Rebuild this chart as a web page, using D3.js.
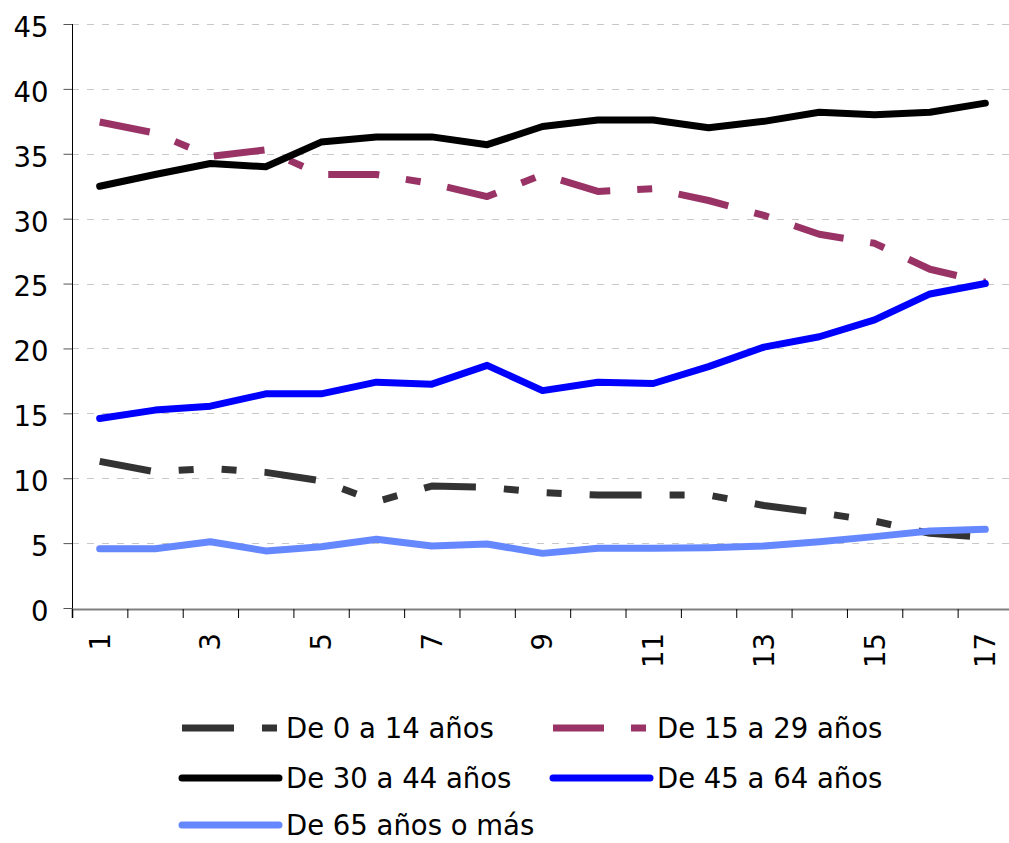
<!DOCTYPE html>
<html><head><meta charset="utf-8">
<script src="https://cdn.jsdelivr.net/npm/d3@7"></script>
<style>
html,body{margin:0;padding:0;background:#fff;}
svg{display:block;}
text{font-family:"DejaVu Sans",Verdana,sans-serif;}
</style></head>
<body>
<script>
const categories = [1,2,3,4,5,6,7,8,9,10,11,12,13,14,15,16,17];
const tickLabels = ["1","3","5","7","9","11","13","15","17"];
const yTicks = [0,5,10,15,20,25,30,35,40,45];
const seriesNames = ["De 0 a 14 años","De 15 a 29 años","De 30 a 44 años","De 45 a 64 años","De 65 años o más"];
const s0_14  = [11.3,10.5,10.75,10.45,9.8,8.2,9.4,9.3,8.9,8.7,8.7,8.7,7.9,7.35,6.7,5.75,5.45];
const s15_29 = [37.45,36.6,34.8,35.3,33.4,33.4,32.7,31.7,33.4,32.1,32.3,31.4,30.25,28.8,28.1,26.1,25.1];
const s30_44 = [32.5,33.4,34.25,34.0,35.9,36.3,36.3,35.7,37.1,37.6,37.6,37.0,37.5,38.2,38.0,38.2,38.9];
const s45_64 = [14.6,15.25,15.55,16.5,16.5,17.4,17.25,18.7,16.75,17.4,17.3,18.6,20.1,20.9,22.2,24.2,25.0];
const s65    = [4.57,4.57,5.1,4.4,4.72,5.3,4.77,4.93,4.21,4.6,4.6,4.65,4.78,5.1,5.5,5.93,6.06];

const styles = [
  {color:"#333333", width:7, dash:"52,28,15,28,15,28"},
  {color:"#993366", width:7, dash:"51,27,15,27"},
  {color:"#000000", width:7, dash:null},
  {color:"#0000ff", width:7, dash:null},
  {color:"#6688ff", width:7, dash:null}
];
const allSeries = [s0_14, s15_29, s30_44, s45_64, s65];
const FS = 27.5;

const W = 1009, H = 843;
const svg = d3.select("body").append("svg").attr("width", W).attr("height", H);

const pL = 72, pR = 1013, pT = 24, pB = 608;
const x = d3.scaleBand().domain(categories).range([pL, pR]).padding(0);
const xc = d => x(d) + x.bandwidth()/2;
const y = d3.scaleLinear().domain([0,45]).range([pB, pT]);

// gridlines
svg.append("g").selectAll("line").data(yTicks.filter(v=>v>0)).join("line")
  .attr("x1", pL).attr("x2", 1009)
  .attr("y1", d=>Math.round(y(d))+0.5).attr("y2", d=>Math.round(y(d))+0.5)
  .attr("stroke", "#c8c8c8").attr("stroke-width", 1).attr("stroke-dasharray", "7,8");

// y axis
const yAxis = svg.append("g").attr("transform", `translate(${pL+0.5},0)`)
  .call(d3.axisLeft(y).tickValues(yTicks).tickSize(9).tickPadding(15).tickFormat(d3.format("d")));
yAxis.select(".domain").remove();
yAxis.selectAll(".tick line").attr("stroke","#555");
yAxis.selectAll("text").attr("font-size", FS).attr("fill","#000").attr("dy","0.45em");
svg.append("line").attr("x1", pL+0.5).attr("x2", pL+0.5).attr("y1", pT).attr("y2", pB+10)
  .attr("stroke","#000").attr("stroke-width",1);

// x axis: ticks at band edges
const xe = d3.scaleLinear().domain([0,17]).range([pL,pR]);
const xAxis = svg.append("g").attr("transform", `translate(0,${pB+1})`)
  .call(d3.axisBottom(xe).tickValues(d3.range(0,18)).tickSize(9).tickFormat(""));
xAxis.select(".domain").attr("stroke","#808080").attr("stroke-width",2);
xAxis.selectAll(".tick line").attr("stroke","#000");

// x labels
const xl = svg.append("g").attr("transform", `translate(0,${pB+1})`)
  .call(d3.axisBottom(x).tickValues(categories.filter(c=>tickLabels.includes(String(c)))).tickSize(0).tickPadding(0));
xl.select(".domain").remove();
xl.selectAll("text").attr("font-size", FS).attr("fill","#000")
  .attr("transform","rotate(-90)").attr("text-anchor","end")
  .attr("x",-24).attr("y",0).attr("dy","0.36em");

// lines
const line = d3.line().x((d,i)=>xc(categories[i])).y(d=>y(d));
allSeries.forEach((s,k)=>{
  svg.append("path").datum(s).attr("d", line).attr("fill","none")
    .attr("stroke", styles[k].color).attr("stroke-width", styles[k].width)
    .attr("stroke-dasharray", styles[k].dash)
    .attr("stroke-linejoin", "round")
    .attr("stroke-linecap", styles[k].dash ? "butt" : "round");
});

// legend
const legPos = [[182,728],[553,728],[182,778],[553,778],[182,825]];
seriesNames.forEach((n,k)=>{
  const [lx,ly] = legPos[k];
  const g = svg.append("g");
  g.append("line").attr("x1",lx).attr("x2",lx+97).attr("y1",ly).attr("y2",ly)
    .attr("stroke", styles[k].color).attr("stroke-width", styles[k].width)
    .attr("stroke-dasharray", styles[k].dash)
    .attr("stroke-linecap", styles[k].dash ? "butt" : "round");
  g.append("text").attr("x", lx+104).attr("y", ly).attr("dy","0.36em")
    .attr("font-size", FS).attr("fill","#000").text(n);
});
</script>
</body></html>
